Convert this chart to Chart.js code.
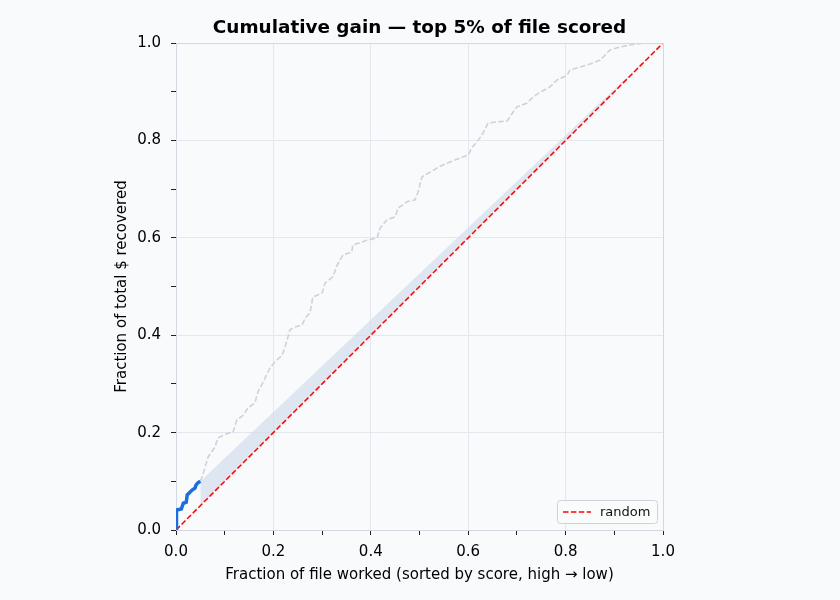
<!DOCTYPE html>
<html>
<head>
<meta charset="utf-8">
<script src="https://cdn.jsdelivr.net/npm/chart.js@4.4.1/dist/chart.umd.min.js"></script>
<style>
  html, body { margin: 0; padding: 0; background: #f8fafc; }
  #wrap { width: 840px; height: 600px; }
</style>
</head>
<body>
<div id="wrap"><canvas id="gainChart" width="840" height="600"></canvas></div>
<script>
// top 5% of the file, scored
const top5X = [0, 0.001, 0.011, 0.015, 0.021, 0.023, 0.027, 0.033, 0.039, 0.041, 0.045, 0.05];
const top5Y = [0, 0.041, 0.043, 0.055, 0.057, 0.072, 0.076, 0.082, 0.086, 0.092, 0.097, 0.10];

// full-file gain curve (faded)
const gainX = [0.05, 0.055, 0.066, 0.080, 0.086, 0.107, 0.117, 0.125, 0.138, 0.148, 0.162, 0.168, 0.179,
  0.193, 0.203, 0.218, 0.224, 0.234, 0.244, 0.259, 0.265, 0.275, 0.281, 0.300, 0.306, 0.322, 0.331,
  0.343, 0.361, 0.363, 0.392, 0.413, 0.419, 0.433, 0.450, 0.456, 0.474, 0.491, 0.497, 0.505, 0.522,
  0.542, 0.559, 0.583, 0.600, 0.608, 0.618, 0.628, 0.641, 0.659, 0.680, 0.692, 0.700, 0.721, 0.733,
  0.747, 0.768, 0.782, 0.803, 0.809, 0.823, 0.850, 0.871, 0.881, 0.891, 0.912, 0.932, 0.959, 1.0];
const gainY = [0.10, 0.113, 0.150, 0.170, 0.189, 0.199, 0.201, 0.226, 0.236, 0.251, 0.261, 0.283, 0.304,
  0.333, 0.345, 0.359, 0.376, 0.411, 0.417, 0.421, 0.435, 0.446, 0.478, 0.487, 0.507, 0.520, 0.544,
  0.565, 0.571, 0.585, 0.595, 0.600, 0.620, 0.637, 0.643, 0.661, 0.674, 0.678, 0.694, 0.725, 0.735,
  0.747, 0.754, 0.764, 0.770, 0.786, 0.797, 0.811, 0.836, 0.838, 0.840, 0.858, 0.869, 0.877, 0.889,
  0.899, 0.910, 0.924, 0.934, 0.945, 0.949, 0.957, 0.965, 0.975, 0.986, 0.992, 0.996, 1.0, 1.0];

// projected band beyond the scored part
const bandX = [0.05, 1];
const bandUpper = [0.10, 1];
const bandLower = [0.05, 1];

const randomX = [0, 1];
const randomY = [0, 1];

const FONT = "'DejaVu Sans', sans-serif";

function pts(xs, ys) {
    return xs.map(function (x, i) { return {x: x, y: ys[i]}; });
}

function isMajor(v) {
    return Math.round(v * 10) % 2 === 0;
}

const bgPlugin = {
    id: 'bg',
    beforeDraw: function (chart) {
        const c = chart.ctx;
        c.save();
        c.fillStyle = '#f8fafc';
        c.fillRect(0, 0, chart.width, chart.height);
        c.restore();
    },
    afterDraw: function (chart) {
        const c = chart.ctx;
        const a = chart.chartArea;
        c.save();
        // top + right spines
        c.strokeStyle = '#d3d9e1';
        c.lineWidth = 1;
        c.beginPath();
        c.moveTo(a.left, a.top + 0.5);
        c.lineTo(a.right + 0.5, a.top + 0.5);
        c.lineTo(a.right + 0.5, a.bottom);
        c.stroke();

        // legend box in lower right
        const w = 100, h = 23;
        const x0 = a.right - 6 - w, y0 = a.bottom - 7 - h;
        c.beginPath();
        c.roundRect(x0 + 0.5, y0 + 0.5, w, h, 3);
        c.fillStyle = 'rgba(250,251,252,0.85)';
        c.fill();
        c.strokeStyle = '#cfd3d8';
        c.stroke();
        c.beginPath();
        c.setLineDash([5.5, 2.4]);
        c.strokeStyle = '#ff0000';
        c.lineWidth = 1.5;
        c.moveTo(x0 + 6, y0 + h / 2 + 0.5);
        c.lineTo(x0 + 34, y0 + h / 2 + 0.5);
        c.stroke();
        c.setLineDash([]);
        c.fillStyle = '#111';
        c.font = '13px ' + FONT;
        c.textBaseline = 'middle';
        c.fillText('random', x0 + 43, y0 + h / 2 + 1);
        c.restore();
    }
};

const CHART = document.getElementById('gainChart');
let gainChart = new Chart(CHART, {
    type: 'line',
    data: {
        datasets: [
            {
                label: 'top 5%',
                data: pts(top5X, top5Y),
                borderColor: '#1a6fdc',
                borderWidth: 3.5,
                pointRadius: 0,
                fill: false,
                tension: 0
            },
            {
                label: 'random',
                data: pts(randomX, randomY),
                borderColor: '#ff0000',
                borderWidth: 1.5,
                borderDash: [5.5, 2.4],
                pointRadius: 0,
                fill: false
            },
            {
                label: 'full file',
                data: pts(gainX, gainY),
                borderColor: '#cdd3dc',
                borderWidth: 1.6,
                borderDash: [5.5, 2.4],
                pointRadius: 0,
                fill: false,
                tension: 0
            },
            {
                label: 'band upper',
                data: pts(bandX, bandUpper),
                borderWidth: 0,
                borderColor: 'rgba(0,0,0,0)',
                backgroundColor: 'rgba(205,218,234,0.6)',
                pointRadius: 0,
                fill: '+1'
            },
            {
                label: 'band lower',
                data: pts(bandX, bandLower),
                borderWidth: 0,
                borderColor: 'rgba(0,0,0,0)',
                pointRadius: 0,
                fill: false
            }
        ]
    },
    options: {
        responsive: false,
        animation: false,
        layout: {padding: {left: 105, right: 177, top: 0, bottom: 10}},
        plugins: {
            legend: {display: false},
            tooltip: {enabled: false},
            title: {
                display: true,
                fullSize: false,
                text: 'Cumulative gain — top 5% of file scored',
                color: '#000',
                font: {family: FONT, size: 18.4, weight: 'bold'},
                padding: {top: 17, bottom: 4}
            }
        },
        scales: {
            x: {
                type: 'linear',
                min: 0,
                max: 1,
                afterFit: function (scale) { scale.height = 60; },
                border: {display: true, color: '#d3d9e1', width: 1},
                grid: {
                    color: function (ctx) { return isMajor(ctx.tick.value) ? '#e3e8ef' : 'rgba(0,0,0,0)'; },
                    tickColor: '#222',
                    tickLength: 5,
                    drawTicks: true
                },
                ticks: {
                    stepSize: 0.1,
                    autoSkip: false,
                    maxRotation: 0,
                    padding: 8,
                    color: '#000',
                    font: {family: FONT, size: 15},
                    callback: function (v) { return isMajor(v) ? v.toFixed(1) : ''; }
                },
                title: {
                    display: true,
                    text: 'Fraction of file worked (sorted by score, high → low)',
                    color: '#000',
                    font: {family: FONT, size: 15},
                    padding: {top: 0, bottom: 6}
                }
            },
            y: {
                type: 'linear',
                min: 0,
                max: 1,
                afterFit: function (scale) { scale.width = 71; },
                border: {display: true, color: '#d3d9e1', width: 1},
                grid: {
                    color: function (ctx) { return isMajor(ctx.tick.value) ? '#e3e8ef' : 'rgba(0,0,0,0)'; },
                    tickColor: '#222',
                    tickLength: 5,
                    drawTicks: true
                },
                ticks: {
                    stepSize: 0.1,
                    autoSkip: false,
                    padding: 10,
                    color: '#000',
                    font: {family: FONT, size: 15},
                    callback: function (v) { return isMajor(v) ? v.toFixed(1) : ''; }
                },
                title: {
                    display: true,
                    text: 'Fraction of total $ recovered',
                    color: '#000',
                    font: {family: FONT, size: 15},
                    padding: {top: 8, bottom: 0}
                }
            }
        }
    },
    plugins: [bgPlugin]
});
</script>
</body>
</html>
